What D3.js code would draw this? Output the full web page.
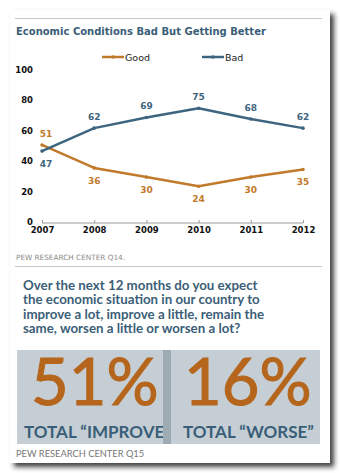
<!DOCTYPE html>
<html>
<head>
<meta charset="utf-8">
<script src="https://cdn.jsdelivr.net/npm/d3@7"></script>
<style>
  body { margin: 0; background: #fff; }
  text.chart { font-family: "DejaVu Sans", Verdana, sans-serif; }
  text.geo { font-family: Lato, "Open Sans", sans-serif; }
</style>
</head>
<body>
<div id="card"></div>
<script>
// Survey series (percent)
const years = [2007, 2008, 2009, 2010, 2011, 2012];
const good = [51, 36, 30, 24, 30, 35];
const bad = [47, 62, 69, 75, 68, 62];
const yTicks = [0, 20, 40, 60, 80, 100];

// Q15 totals
const totals = [
  { value: 51, label: "TOTAL \u201CIMPROVE\u201D" },
  { value: 16, label: "TOTAL \u201CWORSE\u201D" }
];

const questionLines = [
  "Over the next 12 months do you expect",
  "the economic situation in our country to",
  "improve a lot, improve a little, remain the",
  "same, worsen a little or worsen a lot?"
];

const colors = { good: "#c17a2c", bad: "#3e6580", title: "#3b5e78", big: "#b5661c" };

const W = 340, H = 473;
const svg = d3.select("#card").append("svg")
    .attr("width", W)
    .attr("height", H);

// card with soft shadow
const defs = svg.append("defs");
const shadow = defs.append("filter").attr("id", "shadow")
    .attr("x", "-5%").attr("y", "-5%").attr("width", "115%").attr("height", "115%");
shadow.append("feDropShadow")
    .attr("dx", 4).attr("dy", 4).attr("stdDeviation", 2.5)
    .attr("flood-color", "#222").attr("flood-opacity", 0.85);

svg.append("rect")
    .attr("x", 10).attr("y", 10)
    .attr("width", 320).attr("height", 453)
    .attr("fill", "#fff")
    .attr("filter", "url(#shadow)");

// rules
svg.append("line").attr("x1", 15).attr("x2", 322).attr("y1", 18.5).attr("y2", 18.5)
    .attr("stroke", "#c8c8c8").attr("stroke-width", 1);
svg.append("line").attr("x1", 15).attr("x2", 322).attr("y1", 266.5).attr("y2", 266.5)
    .attr("stroke", "#c8c8c8").attr("stroke-width", 1);

svg.append("text").attr("class", "chart")
    .attr("x", 16).attr("y", 35)
    .attr("font-size", 10).attr("font-weight", "bold")
    .attr("fill", colors.title)
    .text("Economic Conditions Bad But Getting Better");

// legend
const legend = svg.append("g").attr("class", "legend");
[{ name: "Good", c: colors.good, x: 102 }, { name: "Bad", c: colors.bad, x: 202 }].forEach(d => {
  legend.append("line").attr("x1", d.x).attr("x2", d.x + 22).attr("y1", 57).attr("y2", 57)
      .attr("stroke", d.c).attr("stroke-width", 2.5);
  legend.append("circle").attr("cx", d.x + 11).attr("cy", 57).attr("r", 1.8).attr("fill", d.c);
  legend.append("text").attr("class", "chart")
      .attr("x", d.x + 23).attr("y", 60.5)
      .attr("font-size", 9.5).attr("fill", "#222")
      .text(d.name);
});

// scales
const x = d3.scalePoint().domain(years).range([42, 303]);
const y = d3.scaleLinear().domain([0, 100]).range([223, 70]);

// x axis
const xAxis = svg.append("g").attr("transform", "translate(0,223)")
    .call(d3.axisBottom(x).tickSize(-3).tickPadding(8));
xAxis.select(".domain").attr("stroke", "#999").attr("d", "M42,0H303");
xAxis.selectAll(".tick line").attr("stroke", "#999");
xAxis.selectAll(".tick text").attr("class", "chart")
    .attr("font-size", 8.5).attr("font-weight", "bold").attr("fill", "#111")
    .attr("dy", "0.2em");

// y labels only
svg.append("g").selectAll("text").data(yTicks).join("text")
    .attr("class", "chart")
    .attr("x", 33).attr("y", d => y(d) + (d === 0 ? 1.5 : 2.5))
    .attr("text-anchor", "end")
    .attr("font-size", 8.5).attr("font-weight", "bold").attr("fill", "#111")
    .text(d => d);

const series = [
  { key: "good", values: good, other: bad, c: colors.good },
  { key: "bad", values: bad, other: good, c: colors.bad }
];

const line = d3.line().x((d, i) => x(years[i])).y(d => y(d));

series.forEach(s => {
  const g = svg.append("g").attr("class", "series-" + s.key);
  g.append("path").datum(s.values)
      .attr("d", line)
      .attr("fill", "none")
      .attr("stroke", s.c)
      .attr("stroke-width", 2.5)
      .attr("stroke-linejoin", "round");
  g.selectAll("circle").data(s.values).join("circle")
      .attr("cx", (d, i) => x(years[i]))
      .attr("cy", d => y(d))
      .attr("r", 1.8)
      .attr("fill", s.c);
  // value labels: above when this series is on top, below otherwise
  g.selectAll("text").data(s.values).join("text")
      .attr("class", "chart")
      .attr("x", (d, i) => x(years[i]) + (i === 0 ? 4 : 0))
      .attr("y", (d, i) => d > s.other[i] ? y(d) - 8 : y(d) + 16)
      .attr("text-anchor", "middle")
      .attr("font-size", 9).attr("font-weight", "bold")
      .attr("fill", s.c)
      .text(d => d);
});

svg.append("text").attr("class", "chart")
    .attr("x", 16).attr("y", 259.5)
    .attr("font-size", 7.3).attr("fill", "#8a8a8a")
    .text("PEW RESEARCH CENTER Q14.");

// question
svg.append("g").selectAll("text").data(questionLines).join("text")
    .attr("class", "geo")
    .attr("x", 23).attr("y", (d, i) => 289.5 + i * 14.5)
    .attr("font-size", 13.3).attr("font-weight", "bold")
    .attr("fill", colors.title)
    .text(d => d);

// totals panels
const boxes = [{ x: 17, w: 146 }, { x: 171, w: 149 }];
svg.append("rect").attr("x", 17).attr("y", 350).attr("width", 303).attr("height", 94)
    .attr("fill", "#9eabb3");
boxes.forEach((b, i) => {
  defs.append("clipPath").attr("id", "clip" + i)
    .append("rect").attr("x", b.x).attr("y", 350).attr("width", b.w).attr("height", 94);
  const g = svg.append("g").attr("clip-path", "url(#clip" + i + ")");
  g.append("rect").attr("x", b.x).attr("y", 350).attr("width", b.w).attr("height", 94)
      .attr("fill", "#c4ced4");
  g.append("text").attr("class", "geo")
      .attr("x", b.x + 14 + (i ? -1 : 0)).attr("y", 405)
      .attr("font-size", 65)
      .attr("fill", colors.big)
      .attr("stroke", colors.big).attr("stroke-width", 1.1)
      .text(totals[i].value + "%");
  g.append("text").attr("class", "geo")
      .attr("x", b.x + 7 + (i ? 5 : 0)).attr("y", 438)
      .attr("font-size", 17).attr("font-weight", "bold")
      .attr("fill", colors.title)
      .text(totals[i].label);
});

svg.append("text").attr("class", "geo")
    .attr("x", 16).attr("y", 456.5)
    .attr("font-size", 9.3).attr("fill", "#777")
    .text("PEW RESEARCH CENTER Q15");
</script>
</body>
</html>
